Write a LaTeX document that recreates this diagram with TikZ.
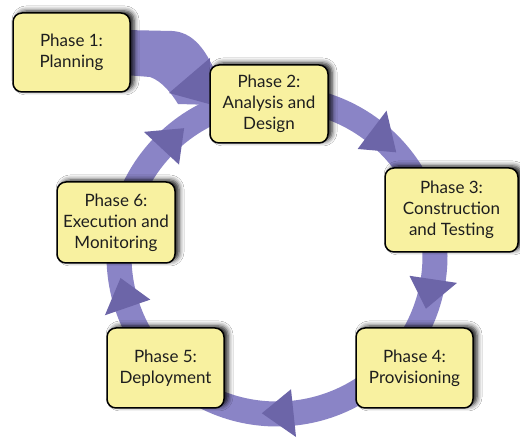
\documentclass[tikz,border=0pt]{standalone}
\usepackage{fontspec}
\setmainfont{Lato}
\usetikzlibrary{calc,shadows.blur}
\definecolor{ringc}{RGB}{138,132,198}
\definecolor{headc}{RGB}{108,101,168}
\definecolor{boxfill}{RGB}{248,241,160}
\definecolor{ink}{RGB}{30,30,30}
\begin{document}
\begin{tikzpicture}[x=1pt,y=1pt,
  phase/.style={draw=black, line width=1.5pt, fill=boxfill, rounded corners=9pt,
    align=center, inner sep=0pt, text=ink, font=\fontsize{17}{21}\selectfont,
    blur shadow={shadow xshift=4pt, shadow yshift=2pt, shadow blur radius=5pt, shadow opacity=90}},
  band/.style={fill=ringc},
  head/.style={fill=headc}
]
\useasboundingbox (0,0) rectangle (520,439);
\fill[white] (0,0) rectangle (520,439);

% the cycle ring
\coordinate (C) at (277,183);
\draw[ringc, line width=25pt] (C) circle[radius=158];

% arrowheads on the ring: base angle / tip angle
\foreach \b/\t [count=\i] in {53/41, -8.5/-19.5, -84/-95.5, 199/188, 137/126} {
  \coordinate (h\i a) at ($(C)+(\b:134)$);
  \coordinate (h\i b) at ($(C)+(\b:182)$);
  \coordinate (h\i t) at ($(C)+(\t:158)$);
  \fill[head] (h\i a) -- (h\i b) -- (h\i t) -- cycle;
}

% broad entry arrow from planning into the cycle
\fill[band] (125,409) -- (172,408) .. controls (192,407) and (204,391) .. (213,372)
  -- (213,334) -- (178,335) .. controls (172,345) and (162,358) .. (150,362)
  -- (125,364) -- cycle;
\fill[head] (169,346) -- (210,381) -- (209,335) -- cycle;

% phase boxes
\node[phase, minimum width=117pt, minimum height=79pt] (p1) at (71.5,386.5) {Phase 1:\\Planning};
\node[phase, minimum width=118pt, minimum height=78pt] (p2) at (269,335) {Phase 2:\\Analysis and\\Design};
\node[phase, minimum width=133pt, minimum height=84pt] (p3) at (451.5,229) {Phase 3:\\Construction\\and Testing};
\node[phase, minimum width=117pt, minimum height=80pt] (p4) at (414.5,71) {Phase 4:\\Provisioning};
\node[phase, minimum width=117pt, minimum height=80pt] (p5) at (165.5,71) {Phase 5:\\Deployment};
\node[phase, minimum width=118pt, minimum height=81pt] (p6) at (116,216.5) {Phase 6:\\Execution and\\Monitoring};
\end{tikzpicture}
\end{document}
